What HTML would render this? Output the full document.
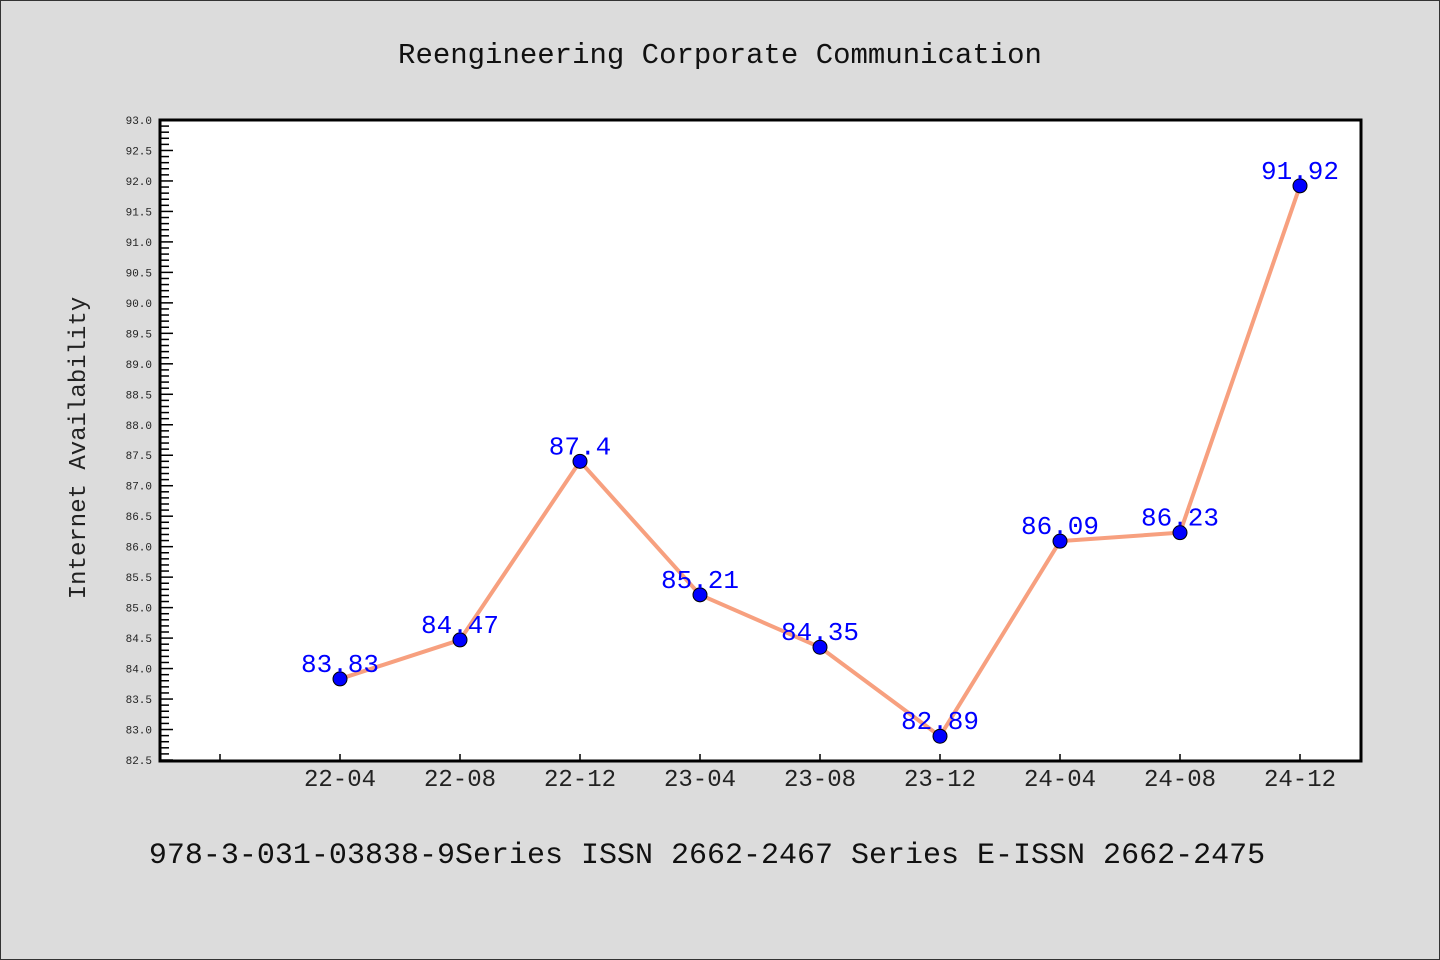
<!DOCTYPE html>
<html><head><meta charset="utf-8"><style>
html,body{margin:0;padding:0;background:#dcdcdc;}
svg{display:block;}
text{font-family:"Liberation Mono","DejaVu Sans Mono",monospace;}
</style></head><body>
<svg id="c" width="1440" height="960" xmlns="http://www.w3.org/2000/svg">
<rect x="0.5" y="0.5" width="1439" height="959" fill="#dcdcdc" stroke="#333" stroke-width="1"/>
<text x="720" y="63" text-anchor="middle" font-size="29" fill="#111">Reengineering Corporate Communication</text>
<rect x="160" y="120" width="1201" height="641" fill="#fff" stroke="#000" stroke-width="3"/>
<text transform="translate(85,448) rotate(-90)" text-anchor="middle" font-size="24" fill="#222">Internet Availability</text>
<text x="707" y="863" text-anchor="middle" font-size="30" fill="#111">978-3-031-03838-9Series ISSN 2662-2467 Series E-ISSN 2662-2475</text>
<g id="axes"></g><g id="series"></g>
</svg>
<script>
const categories = ["", "22-04","22-08","22-12","23-04","23-08","23-12","24-04","24-08","24-12"];
const values = [null, 83.83,84.47,87.4,85.21,84.35,82.89,86.09,86.23,91.92];
const valueLabels = ["", "83.83","84.47","87.4","85.21","84.35","82.89","86.09","86.23","91.92"];
const yMin = 82.5, yMax = 93.0;
const NS="http://www.w3.org/2000/svg";
const L=160,R=1360,T=120,B=760;
const slot=(R-L)/categories.length;
function xs(i){return L+slot*(i+0.5);}
function ys(v){return B-(v-yMin)/(yMax-yMin)*(B-T);}
function mk(tag,attrs,parent){const e=document.createElementNS(NS,tag);for(const k in attrs)e.setAttribute(k,attrs[k]);parent.appendChild(e);return e;}
const ax=document.getElementById('axes'), se=document.getElementById('series');
const nMinor=Math.round((yMax-yMin)/0.1);
for(let k=0;k<=nMinor;k++){
  const v=yMin+k*0.1, y=ys(v), major=k%5===0;
  const t=mk('line',{x1:L,x2:L+(major?13:9),y1:y,y2:y,stroke:'#000','stroke-width':1.5},ax);
  
  
  if(major){
    const tx=mk('text',{x:152,y:y+4,'text-anchor':'end','font-size':11,fill:'#222'},ax);
    tx.textContent=v.toFixed(1);
    
    
  }
}
categories.forEach((c,i)=>{
  const x=xs(i);
  const t=mk('line',{x1:x,x2:x,y1:B,y2:B-6,stroke:'#000','stroke-width':1.5},ax);
  
  
  if(c){
    const tx=mk('text',{x:x,y:786,'text-anchor':'middle','font-size':24,fill:'#222'},ax);
    tx.textContent=c;
    
    
  }
});
const pts=[];values.forEach((v,i)=>{if(v!=null)pts.push(xs(i)+','+ys(v));});
const pl=mk('polyline',{points:pts.join(' '),fill:'none',stroke:'#f7a07f','stroke-width':4,'stroke-linejoin':'round'},se);


values.forEach((v,i)=>{
  if(v==null)return;
  const c=mk('circle',{cx:xs(i),cy:ys(v),r:7,fill:'#0000ff',stroke:'#000','stroke-width':1},se);
  
  
  const t=mk('text',{x:xs(i),y:ys(v)-7,'text-anchor':'middle','font-size':26,fill:'#0000ff'},se);
  t.textContent=valueLabels[i];
  
  
});
</script>
</body></html>
